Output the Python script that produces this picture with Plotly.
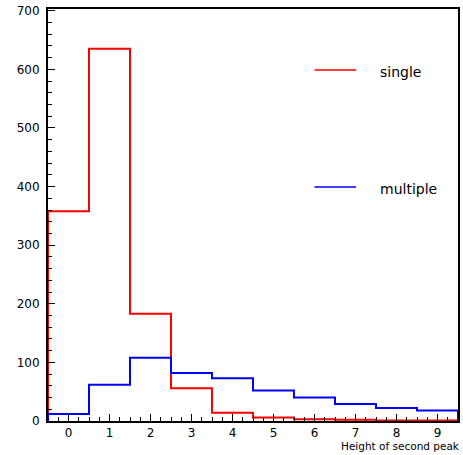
import plotly.graph_objects as go

bins = [0, 1, 2, 3, 4, 5, 6, 7, 8, 9]
single = [358, 635, 183, 56, 14, 6, 3, 2, 1, 1]
multiple = [12, 62, 108, 82, 73, 52, 40, 29, 22, 18]
series_names = ["single", "multiple"]
series_colors = ["#ff0000", "#0000ff"]
x_title = "Height of second peak"


def step_xy(centers, vals):
    lo = [c - 0.5 for c in centers]
    xs = [lo[0]] + lo + [centers[-1] + 0.5, centers[-1] + 0.5]
    ys = [0] + list(vals) + [vals[-1], 0]
    return xs, ys


fig = go.Figure()
for name, vals, col in zip(series_names, [single, multiple], series_colors):
    xs, ys = step_xy(bins, vals)
    fig.add_trace(go.Scatter(x=xs, y=ys, mode="lines", name=name,
                             line=dict(color=col, width=2, shape="hv"),
                             showlegend=False, hoverinfo="skip"))

FONT = "DejaVu Sans"
# legend keys
leg_y = [0.852, 0.568]
for name, col, yy in zip(series_names, series_colors, leg_y):
    fig.add_shape(type="line", xref="paper", yref="paper",
                  x0=0.650, x1=0.7515, y0=yy, y1=yy,
                  line=dict(color=col, width=1.5))
    fig.add_annotation(xref="paper", yref="paper", x=0.806, y=yy - 0.004,
                       text=name, showarrow=False, xanchor="left",
                       yanchor="middle",
                       font=dict(family=FONT, size=14, color="black"))

fig.add_annotation(xref="paper", yref="paper", x=1.01, y=-0.06,
                   text=x_title, showarrow=False, xanchor="right",
                   yanchor="middle",
                   font=dict(family=FONT, size=10.5, color="black"))

fig.update_layout(
    width=463, height=455,
    margin=dict(l=48, r=3, t=9, b=34),
    plot_bgcolor="white", paper_bgcolor="white",
    font=dict(family=FONT, size=12, color="black"),
    xaxis=dict(range=[-0.5, 9.5], showgrid=False, zeroline=False,
               showline=True, linecolor="black", linewidth=2, mirror=True,
               ticks="inside", ticklen=7, tickcolor="black", tickwidth=1,
               tick0=0, dtick=1,
               minor=dict(dtick=0.25, ticks="inside", ticklen=4,
                          tickcolor="black", tickwidth=1, showgrid=False),
               tickfont=dict(family=FONT, size=12, color="black")),
    yaxis=dict(range=[0, 703], showgrid=False, zeroline=False,
               showline=True, linecolor="black", linewidth=2, mirror=True,
               ticks="inside", ticklen=7, tickcolor="black", tickwidth=1,
               tick0=0, dtick=100, ticklabelstandoff=4,
               minor=dict(dtick=20, ticks="inside", ticklen=4,
                          tickcolor="black", tickwidth=1, showgrid=False),
               tickfont=dict(family=FONT, size=12, color="black")),
)

fig.write_html("out.html")
